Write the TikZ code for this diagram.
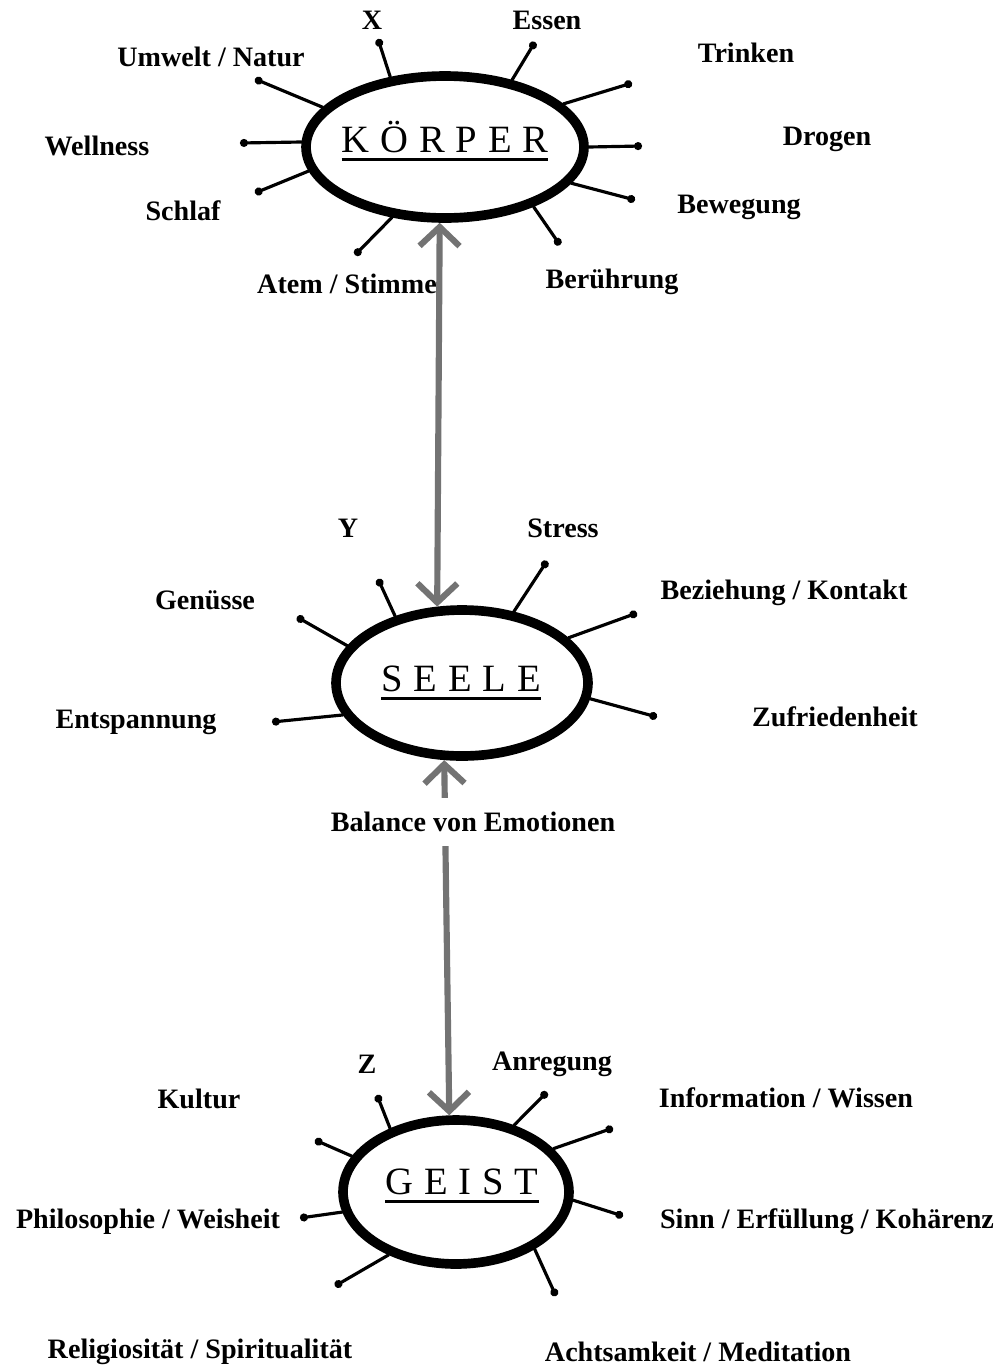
\documentclass[tikz,border=0pt]{standalone}
\usepackage{fontspec}
\setmainfont{Liberation Serif}
\usetikzlibrary{shapes.geometric,arrows.meta}
\newcommand{\lsp}{\kern6.2pt}
\newcommand{\titleword}[1]{\setbox0\hbox{#1}\vtop{\copy0\kern3pt\hrule height 1.6pt width \wd0}}
\begin{document}
\begin{tikzpicture}[x=0.02cm, y=-0.02cm]
	\useasboundingbox (0,0) rectangle (1008,1370);
	
	% Styles for the three circles, their rays and the labels
	\tikzstyle{core} = [ellipse, draw, line width=5.5pt, inner sep=0pt]
	\tikzstyle{title} = [font=\fontsize{22}{26}\selectfont, inner sep=0pt]
	\tikzstyle{lbl} = [font=\fontsize{16}{19}\selectfont\bfseries, inner sep=0pt]
	\tikzstyle{spoke} = [line width=1.8pt, line cap=round, -{Circle[length=4.5pt]}]
	\tikzstyle{link} = [line width=3.5pt, black!55, {Straight Barb[length=0.38cm,width=0.8cm]}-{Straight Barb[length=0.38cm,width=0.8cm]}]
	
	% Ellipses
	\node[core, minimum width=5.56cm, minimum height=2.84cm] (koerper) at (445,147) {};
	\node[core, minimum width=5.04cm, minimum height=2.92cm] (seele) at (462,683) {};
	\node[core, minimum width=4.52cm, minimum height=2.88cm] (geist) at (456,1192) {};
	\node[title] (koerperT) at (445,141) {\titleword{K\lsp Ö\lsp R\lsp P\lsp E\lsp R}};
	\node[title] (seeleT) at (461,683) {\titleword{S\lsp E\lsp E\lsp L\lsp E}};
	\node[title] (geistT) at (462,1186) {\titleword{G\lsp E\lsp I\lsp S\lsp T}};
	
	% Rays
	\foreach \a/\x/\y [count=\i] in {128/378/39, 45/535/42, 162/255/79, 178/240/143, 190/255/193,
		233/355/255, 326/560/245, 344/635/200, 0/642/146, 20/632/83} {
		\coordinate (k\i) at (\x,\y);
		\draw[spoke] (koerper.\a) -- (k\i);
	}
	\foreach \a/\x/\y [count=\i] in {135/378/579, 54/547/561, 162/297/617, 195/272/722,
		23/637/613, 353/657/717} {
		\coordinate (s\i) at (\x,\y);
		\draw[spoke] (seele.\a) -- (s\i);
	}
	\foreach \a/\x/\y [count=\i] in {136/377/1095, 49/547/1092, 161/315/1140, 190/300/1218,
		223/335/1286, 324/556/1296, 24/613/1128, 356/623/1216} {
		\coordinate (g\i) at (\x,\y);
		\draw[spoke] (geist.\a) -- (g\i);
	}
	
	% Arrows between the ellipses
	\draw[link] (koerper.266) -- (seele.108);
	\draw[link] (seele.257) -- (geist.95);
	
	% Labels round KOERPER
	\node[lbl] (lx) at (372,20) {X};
	\node[lbl] (lessen) at (547,20) {Essen};
	\node[lbl] (lumwelt) at (211,57) {Umwelt / Natur};
	\node[lbl] (ltrinken) at (746,53) {Trinken};
	\node[lbl] (lwellness) at (97,146) {Wellness};
	\node[lbl] (ldrogen) at (827,139) {Drogen};
	\node[lbl] (lschlaf) at (183,211) {Schlaf};
	\node[lbl] (lbewegung) at (739,207) {Bewegung};
	\node[lbl] (latem) at (347,284) {Atem / Stimme};
	\node[lbl] (lberuehrung) at (612,282) {Berührung};
	
	% Labels round SEELE
	\node[lbl] (ly) at (348,528) {Y};
	\node[lbl] (lstress) at (563,528) {Stress};
	\node[lbl] (lgenuesse) at (205,600) {Genüsse};
	\node[lbl] (lbeziehung) at (784,593) {Beziehung / Kontakt};
	\node[lbl] (lentspannung) at (136,722) {Entspannung};
	\node[lbl] (lzufrieden) at (835,717) {Zufriedenheit};
	\node[lbl, fill=white, minimum height=0.95cm] (lbalance) at (473,822) {Balance von Emotionen};
	
	% Labels round GEIST
	\node[lbl] (lz) at (367,1064) {Z};
	\node[lbl] (lanregung) at (552,1064) {Anregung};
	\node[lbl] (lkultur) at (199,1099) {Kultur};
	\node[lbl] (linfo) at (786,1098) {Information / Wissen};
	\node[lbl] (lphilo) at (148,1222) {Philosophie / Weisheit};
	\node[lbl] (lsinn) at (827,1222) {Sinn / Erfüllung / Kohärenz};
	\node[lbl] (lreligio) at (200,1352) {Religiosität / Spiritualität};
	\node[lbl] (lachtsam) at (698,1352) {Achtsamkeit / Meditation};
	
\end{tikzpicture}
\end{document}
